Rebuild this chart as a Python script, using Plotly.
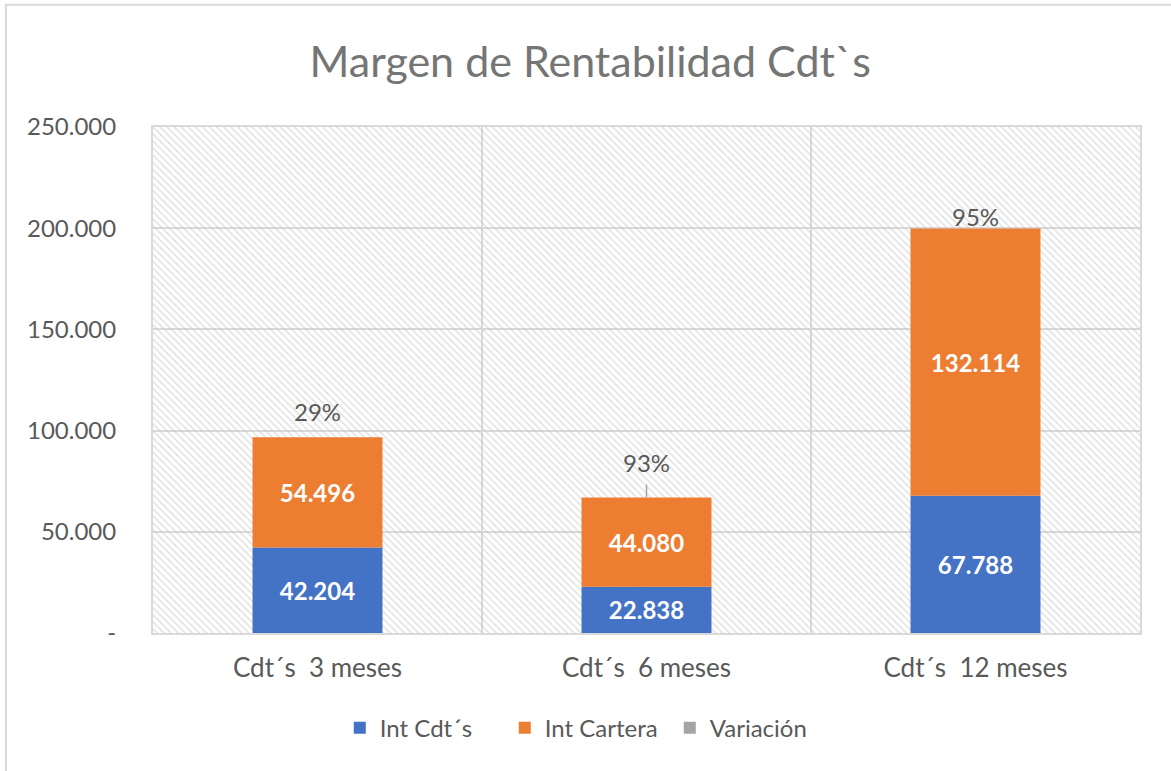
import plotly.graph_objects as go

categories = ["Cdt´s\u00a0\u00a03 meses", "Cdt´s\u00a0\u00a06 meses", "Cdt´s\u00a0\u00a012 meses"]
int_cdts = [42204, 22838, 67788]
int_cartera = [54496, 44080, 132114]
variacion = [0.29, 0.93, 0.95]
y_ticks = [0, 50000, 100000, 150000, 200000, 250000]

FONT = "Lato"
TXT = "#595959"
GRID = "#D9D9D9"
BAR_W = 0.395

xpos = list(range(len(categories)))
x_lo, x_hi = -0.5, len(categories) - 0.5
y_lo, y_hi = y_ticks[0], y_ticks[-1]


def fmt_thousands(v):
    return "-" if v == 0 else f"{v:,.0f}".replace(",", ".")


base_cartera = list(int_cdts)
base_var = [a + b for a, b in zip(int_cdts, int_cartera)]
totals = [a + b for a, b in zip(base_var, variacion)]

fig = go.Figure()

# hatched plot-area background (one bar spanning the whole plot area)
fig.add_trace(go.Bar(
    x=[(x_lo + x_hi) / 2], y=[y_hi - y_lo], base=[y_lo], width=[x_hi - x_lo],
    marker=dict(color="#C4C4C4", line=dict(width=0),
                pattern=dict(shape="\\", fgcolor="#C4C4C4", bgcolor="rgba(0,0,0,0)",
                             size=5, solidity=0.3)),
    hoverinfo="skip", showlegend=False))

fig.add_trace(go.Bar(
    x=xpos, y=int_cdts, base=[0] * len(xpos), name="Int Cdt´s",
    marker=dict(color="#4472C4", line=dict(width=0)),
    text=[fmt_thousands(v) for v in int_cdts], textposition="inside", insidetextanchor="middle",
    textfont=dict(family=FONT, size=24, color="white", weight="bold"), width=BAR_W))
fig.add_trace(go.Bar(
    x=xpos, y=int_cartera, base=base_cartera, name="Int Cartera",
    marker=dict(color="#ED7D31", line=dict(width=0)),
    text=[fmt_thousands(v) for v in int_cartera], textposition="inside", insidetextanchor="middle",
    textfont=dict(family=FONT, size=24, color="white", weight="bold"), width=BAR_W))
fig.add_trace(go.Bar(
    x=xpos, y=variacion, base=base_var, name="Variación",
    marker=dict(color="#A5A5A5", line=dict(width=0)),
    width=BAR_W, hoverinfo="skip"))

label_shift = [26, 35, 12]
label_arrow = [False, True, False]
for xp, tot, v, sh, arr in zip(xpos, totals, variacion, label_shift, label_arrow):
    if arr:
        fig.add_annotation(x=xp, y=tot, text=f"{v:.0%}", showarrow=True, arrowhead=0,
                           arrowwidth=1.5, arrowcolor="#A6A6A6", ax=0, ay=-sh,
                           standoff=0, startstandoff=6,
                           font=dict(family=FONT, size=24, color=TXT))
    else:
        fig.add_annotation(x=xp, y=tot, text=f"{v:.0%}", showarrow=False, yshift=sh,
                           yanchor="middle", font=dict(family=FONT, size=24, color=TXT))

# outer chart border (only left/top visible in crop)
fig.add_shape(type="rect", xref="paper", yref="paper", x0=-0.149, x1=1.2, y0=-0.5, y1=1.2415,
              line=dict(color=GRID, width=2), layer="below")

fig.update_layout(
    width=1171, height=771,
    margin=dict(l=153, r=31, t=127, b=138),
    paper_bgcolor="white", plot_bgcolor="white",
    barmode="overlay",
    separators=",.",
    title=dict(text="Margen de Rentabilidad Cdt`s", x=0.504, xanchor="center",
               y=1 - 62 / 771, yanchor="middle", yref="container",
               font=dict(family=FONT, size=43, color="#757575")),
    font=dict(family=FONT, size=24, color=TXT),
    legend=dict(orientation="h", x=0.44, xanchor="center", y=-0.188, yanchor="middle",
                font=dict(family=FONT, size=24, color=TXT), itemwidth=30,
                entrywidth=120, entrywidthmode="pixels",
                traceorder="normal"),
    showlegend=True,
)
fig.update_xaxes(
    range=[x_lo, x_hi], tickvals=xpos, ticktext=categories, showgrid=False,
    ticks="outside", ticklen=11, tickcolor="rgba(0,0,0,0)",
    minor=dict(tick0=x_lo, dtick=1, showgrid=True, gridcolor=GRID, gridwidth=2),
    showline=True, mirror=True, linecolor=GRID, linewidth=2, zeroline=False,
    tickfont=dict(family=FONT, size=26, color=TXT), fixedrange=True)
fig.update_yaxes(
    range=[y_lo, y_hi], tickvals=y_ticks, ticktext=[fmt_thousands(v) for v in y_ticks],
    showgrid=True, gridcolor=GRID, gridwidth=2,
    ticks="outside", ticklen=30, tickcolor="rgba(0,0,0,0)",
    showline=True, mirror=True, linecolor=GRID, linewidth=2, zeroline=False,
    tickfont=dict(family=FONT, size=24, color=TXT), fixedrange=True)

fig.write_html("out.html", config={"displayModeBar": False},
               post_script="document.body.style.margin='0';")
